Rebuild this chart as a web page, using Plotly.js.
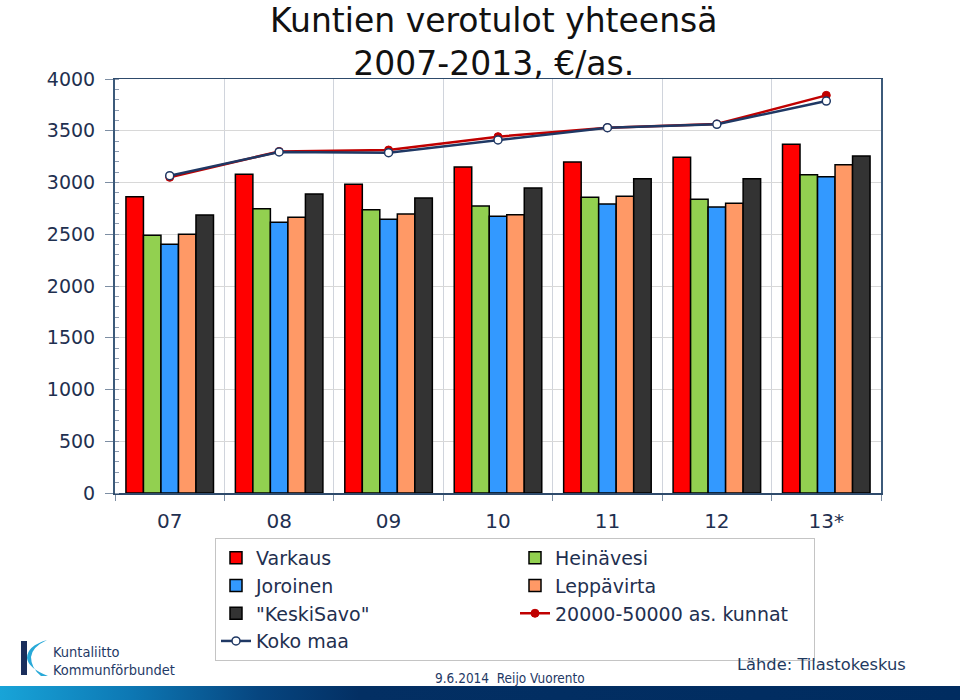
<!DOCTYPE html>
<html>
<head>
<meta charset="utf-8">
<script src="https://cdn.plot.ly/plotly-3.0.1.min.js"></script>
<style>
html,body{margin:0;padding:0;background:#fff;}
#wrap{position:relative;width:960px;height:700px;overflow:hidden;}
#chart{position:absolute;left:0;top:0;width:960px;height:700px;}
#band{position:absolute;left:0;top:686px;width:960px;height:14px;
  background:linear-gradient(to right,#18a4d8 0px,#0d78b4 130px,#06457f 260px,#032f63 360px,#002c60 960px);}
</style>
</head>
<body>
<div id="wrap"><div id="chart"></div><div id="band"></div></div>
<script>
// ---- data ----
var years = ["07", "08", "09", "10", "11", "12", "13*"];
var varkaus    = [2863, 3079, 2982, 3150, 3198, 3243, 3369];
var heinavesi  = [2490, 2747, 2737, 2773, 2857, 2838, 3076];
var joroinen   = [2403, 2615, 2644, 2673, 2792, 2763, 3056];
var leppavirta = [2499, 2664, 2696, 2689, 2867, 2799, 3172];
var keskisavo  = [2686, 2889, 2850, 2947, 3037, 3037, 3256];
var kunnat2050 = [3050, 3300, 3314, 3443, 3530, 3565, 3842];
var kokomaa    = [3066, 3295, 3288, 3411, 3530, 3562, 3787];
var yTicks = [0, 500, 1000, 1500, 2000, 2500, 3000, 3500, 4000];

// ---- layout helpers (pixel -> paper) ----
var L = 115, R = 881, T = 79, B = 493;
function px(x){ return (x - L) / (R - L); }
function py(y){ return (B - y) / (B - T); }

var navy = '#1f3050';
function bar(name, vals, color){
  return {type:'bar', name:name, x:years, y:vals,
    marker:{color:color, line:{color:'#000', width:1.5}}};
}
var traces = [
  bar('Varkaus', varkaus, '#ff0000'),
  bar('Heinävesi', heinavesi, '#92d050'),
  bar('Joroinen', joroinen, '#3399ff'),
  bar('Leppävirta', leppavirta, '#ff9966'),
  bar('"KeskiSavo"', keskisavo, '#333333'),
  {type:'scatter', mode:'lines+markers', name:'20000-50000 as. kunnat', x:years, y:kunnat2050,
    line:{color:'#c00000', width:2.5},
    marker:{symbol:'circle', size:8, color:'#c00000', line:{color:'#c00000', width:1}}},
  {type:'scatter', mode:'lines+markers', name:'Koko maa', x:years, y:kokomaa,
    line:{color:'#1f3864', width:2.5},
    marker:{symbol:'circle', size:8, color:'#ffffff', line:{color:'#1f3864', width:1.5}}}
];

function pth(pts){
  var s = 'M ' + px(pts[0][0]) + ',' + py(pts[0][1]);
  for (var i = 1; i < pts.length; i++) {
    var p = pts[i];
    if (p.length === 4) s += ' Q ' + px(p[0]) + ',' + py(p[1]) + ' ' + px(p[2]) + ',' + py(p[3]);
    else s += ' L ' + px(p[0]) + ',' + py(p[1]);
  }
  return s + ' Z';
}

var titleFont = {family: 'DejaVu Sans, Verdana, sans-serif', size: 33, color: '#111111'};
var smallFont = {family: 'DejaVu Sans Condensed, DejaVu Sans, sans-serif', size: 14.5, color: '#1f3a66'};

var layout = {
  width: 960, height: 700,
  margin: {l: L, r: 960 - R, t: T, b: 700 - B, pad: 0},
  paper_bgcolor: '#ffffff', plot_bgcolor: '#ffffff',
  font: {family: 'DejaVu Sans, Verdana, sans-serif', color: navy},
  barmode: 'group', bargap: 0.2, bargroupgap: 0,
  showlegend: true,
  legend: {orientation: 'h', x: px(215), xanchor: 'left', y: py(538), yanchor: 'top',
    bgcolor: '#ffffff', bordercolor: '#c4c4c4', borderwidth: 1,
    font: {size: 19, color: navy, family: 'DejaVu Sans, Verdana, sans-serif'},
    entrywidth: 254, entrywidthmode: 'pixels', traceorder: 'normal', tracegroupgap: 0},
  xaxis: {type: 'category', tickson: 'boundaries', showgrid: true, gridcolor: '#d0d4dc', gridwidth: 1,
    showline: true, linecolor: '#2e4a6b', linewidth: 1.5, mirror: true,
    ticks: 'outside', ticklen: 6, tickcolor: '#7d8ea3',
    tickfont: {size: 20, color: navy}, ticklabelstandoff: 9, fixedrange: true},
  yaxis: {range: [0, 4000], tickvals: yTicks, showgrid: true, gridcolor: '#d8d8d8', gridwidth: 1,
    zeroline: false, showline: true, linecolor: '#3c5a7a', linewidth: 2, mirror: true,
    ticks: 'outside', ticklen: 8, tickcolor: '#7d8ea3',
    minor: {dtick: 100, ticks: 'inside', ticklen: 4, tickcolor: '#8e9cb0', showgrid: false},
    tickfont: {size: 19, color: navy}, ticklabelstandoff: 6, fixedrange: true},
  shapes: [
    {type: 'rect', xref: 'paper', yref: 'paper', x0: px(21), x1: px(27), y0: py(641), y1: py(675),
      fillcolor: '#1b2f5c', line: {width: 0}},
    {type: 'path', xref: 'paper', yref: 'paper',
      path: pth([[47, 640], [27, 646, 27, 658], [28, 668, 48, 676], [41, 676], [31, 668, 31, 657], [32, 647, 47, 640]]),
      fillcolor: '#28a9d8', line: {width: 0}}
  ],
  annotations: [
    {xref: 'paper', yref: 'paper', x: px(493), y: py(0), xanchor: 'center', yanchor: 'top', showarrow: false,
      text: 'Kuntien verotulot yhteensä<br>2007-2013, €/as.', font: titleFont, borderpad: 0},
    {xref: 'paper', yref: 'paper', x: px(51), y: py(652), xanchor: 'left', yanchor: 'middle', showarrow: false,
      text: 'Kuntaliitto', font: smallFont},
    {xref: 'paper', yref: 'paper', x: px(51), y: py(670), xanchor: 'left', yanchor: 'middle', showarrow: false,
      text: 'Kommunförbundet', font: smallFont},
    {xref: 'paper', yref: 'paper', x: px(510), y: py(678), xanchor: 'center', yanchor: 'middle', showarrow: false,
      text: '9.6.2014  Reijo Vuorento', font: {family: 'DejaVu Sans Condensed, DejaVu Sans, sans-serif', size: 13.5, color: '#1f3a66'}},
    {xref: 'paper', yref: 'paper', x: px(821), y: py(664), xanchor: 'center', yanchor: 'middle', showarrow: false,
      text: 'Lähde: Tilastokeskus', font: {family: 'DejaVu Sans, Verdana, sans-serif', size: 16.3, color: '#1f3a5f'}}
  ]
};

Plotly.newPlot('chart', traces, layout, {displayModeBar: false, staticPlot: true});
</script>
</body>
</html>
